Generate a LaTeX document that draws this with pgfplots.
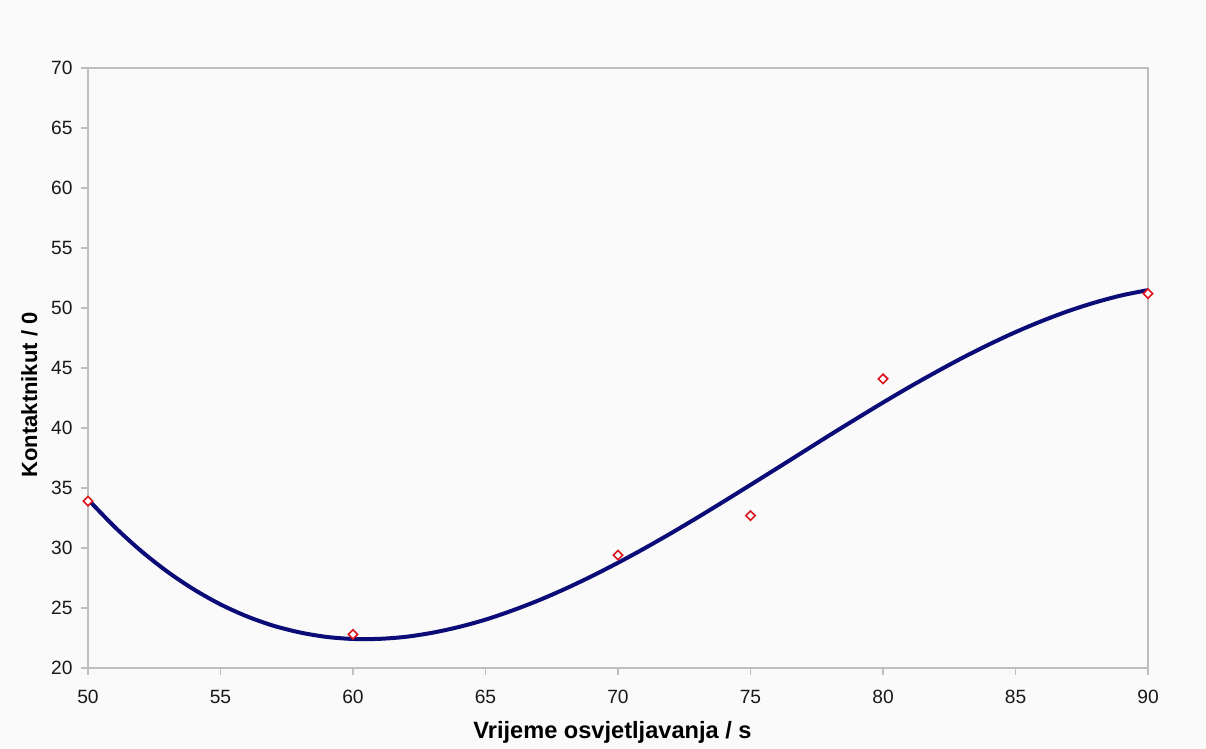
\documentclass[border=0pt]{standalone}
\usepackage{pgfplots}
\pgfplotsset{compat=1.18}
\usepackage{fontspec}
\setmainfont{Liberation Sans}
\definecolor{bgc}{RGB}{250,250,250}
\definecolor{trend}{RGB}{12,12,120}
\definecolor{mk}{RGB}{220,20,30}
\definecolor{axc}{RGB}{190,190,190}
\begin{document}
\begin{tikzpicture}
\path[use as bounding box, fill=bgc] (0,0) rectangle (603pt,374.5pt);
\begin{axis}[
  at={(44pt,40.5pt)}, anchor=south west,
  scale only axis, width=530pt, height=300pt,
  xmin=50, xmax=90, ymin=20, ymax=70,
  xtick={50,55,...,90}, ytick={20,25,...,70},
  axis line style={axc, line width=0.9pt},
  tick style={axc, line width=0.9pt},
  tick align=outside, major tick length=3.5pt,
  xtick pos=bottom, ytick pos=left,
  /pgf/number format/assume math mode=true,
  ticklabel style={font=\fontsize{9.6}{11}\selectfont, text=black!90},
  xticklabel style={inner sep=0pt, anchor=north, yshift=-7.5pt},
  yticklabel style={inner sep=0pt, anchor=east, xshift=-4pt},
  clip=false,
  xlabel={Vrijeme osvjetljavanja / s},
  ylabel={Kontaktnikut / 0},
  xlabel style={font=\fontsize{11.8}{14}\selectfont\bfseries, at={(axis description cs:0.4948,-0.1183)}, anchor=base, inner sep=0pt},
  ylabel style={font=\fontsize{11}{13}\selectfont\bfseries, at={(axis description cs:-0.0481,0.455)}, anchor=base, inner sep=0pt, rotate=0},
]
\addplot[trend, line width=2pt, smooth, no marks] coordinates {
(50,34.05) (51,31.77) (52,29.76) (53,28.02) (54,26.54) (55,25.30) (56,24.30)
(57,23.52) (58,22.96) (59,22.59) (60,22.42) (61,22.43) (62,22.60) (63,22.94)
(64,23.42) (65,24.03) (66,24.78) (67,25.63) (68,26.59) (69,27.64) (70,28.77)
(71,29.97) (72,31.23) (73,32.54) (74,33.89) (75,35.26) (76,36.64) (77,38.03)
(78,39.42) (79,40.78) (80,42.12) (81,43.42) (82,44.66) (83,45.85) (84,46.96)
(85,47.99) (86,48.92) (87,49.75) (88,50.46) (89,51.05) (90,51.49)
};
\addplot[only marks, mark=square*, mark size=1.65pt, mark options={draw=mk, fill=white, line width=0.8pt, rotate=45}] coordinates {
(50,33.9) (60,22.8) (70,29.4) (75,32.7) (80,44.1) (90,51.2)
};
\end{axis}
\end{tikzpicture}
\end{document}
